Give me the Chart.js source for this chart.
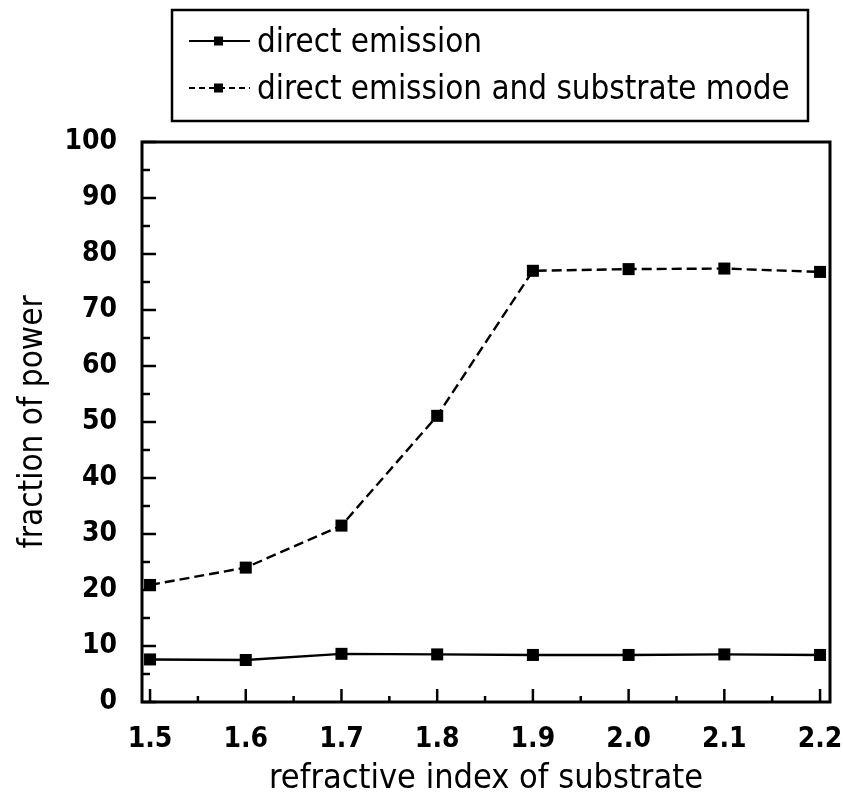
<!DOCTYPE html>
<html>
<head>
<meta charset="utf-8">
<script src="https://cdn.jsdelivr.net/npm/chart.js@4.4.1/dist/chart.umd.min.js"></script>
<style>
  html, body { margin: 0; padding: 0; background: #fff; }
  #c { display: block; }
</style>
</head>
<body>
<canvas id="c" width="843" height="804"></canvas>
<script>
// ---- data ----
const refractiveIndex = [1.5, 1.6, 1.7, 1.8, 1.9, 2.0, 2.1, 2.2];
const directEmission = [7.6, 7.5, 8.6, 8.5, 8.4, 8.4, 8.5, 8.4];
const directAndSubstrate = [20.9, 24.0, 31.5, 51.1, 77.0, 77.3, 77.4, 76.8];
const seriesLabels = ['direct emission', 'direct emission and substrate mode'];
const xTitle = 'refractive index of substrate';
const yTitle = 'fraction of power';

const NARROW = "'Liberation Sans Narrow', 'DejaVu Sans Condensed', 'Arial Narrow', sans-serif";

function pts(ys) { return refractiveIndex.map((x, i) => ({ x: x, y: ys[i] })); }

const framePlugin = {
  id: 'frame',
  beforeDraw(chart) {
    const ctx = chart.ctx;
    ctx.save();
    ctx.fillStyle = '#fff';
    ctx.fillRect(0, 0, chart.width, chart.height);
    ctx.restore();
  },
  afterDraw(chart) {
    const ctx = chart.ctx;
    const a = chart.chartArea;
    const xs = chart.scales.x, ys = chart.scales.y;
    ctx.save();
    ctx.strokeStyle = '#000';
    // frame
    ctx.lineWidth = 3;
    ctx.strokeRect(a.left, a.top, a.right - a.left, a.bottom - a.top);
    // inward ticks on y (left axis)
    ctx.lineWidth = 2.5;
    for (let v = 0; v <= 100; v += 5) {
      const p = ys.getPixelForValue(v);
      const len = (v % 10 === 0) ? 14 : 8;
      ctx.beginPath();
      ctx.moveTo(a.left, p);
      ctx.lineTo(a.left + len, p);
      ctx.stroke();
    }
    // inward ticks on x (bottom axis)
    for (let i = 0; i < refractiveIndex.length; i++) {
      const p = xs.getPixelForValue(refractiveIndex[i]);
      ctx.beginPath();
      ctx.moveTo(p, a.bottom);
      ctx.lineTo(p, a.bottom - 13);
      ctx.stroke();
      if (i < refractiveIndex.length - 1) {
        const m = xs.getPixelForValue((refractiveIndex[i] + refractiveIndex[i + 1]) / 2);
        ctx.beginPath();
        ctx.moveTo(m, a.bottom);
        ctx.lineTo(m, a.bottom - 6);
        ctx.stroke();
      }
    }
    // legend box
    const bx = 172, by = 10, bw = 636, bh = 111;
    ctx.lineWidth = 2.5;
    ctx.strokeRect(bx, by, bw, bh);
    const rows = [41, 88];
    // fit legend font so the longer label spans like the reference
    let fs = 37;
    ctx.font = fs + 'px ' + NARROW;
    const longest = Math.max(...chart.data.datasets.map(d => ctx.measureText(d.label).width));
    fs = Math.min(37, fs * 533 / longest);
    chart.data.datasets.forEach((ds, i) => {
      const y = rows[i];
      ctx.lineWidth = 2.2;
      ctx.setLineDash(ds.borderDash ? [6, 4] : []);
      ctx.beginPath();
      ctx.moveTo(189, y);
      ctx.lineTo(250, y);
      ctx.stroke();
      ctx.setLineDash([]);
      ctx.fillStyle = '#000';
      ctx.fillRect(214, y - 4.5, 9, 9);
      ctx.font = fs + 'px ' + NARROW;
      ctx.textBaseline = 'alphabetic';
      ctx.textAlign = 'left';
      ctx.fillText(ds.label, 257, y + 11);
    });
    ctx.restore();
  }
};

new Chart(document.getElementById('c'), {
  type: 'line',
  data: {
    datasets: [
      {
        label: seriesLabels[0],
        data: pts(directEmission),
        borderColor: '#000',
        backgroundColor: '#000',
        borderWidth: 2.4,
        pointStyle: 'rect',
        pointRadius: 8.5,
        pointBackgroundColor: '#000',
        pointBorderWidth: 0,
        tension: 0
      },
      {
        label: seriesLabels[1],
        data: pts(directAndSubstrate),
        borderColor: '#000',
        backgroundColor: '#000',
        borderWidth: 2.4,
        borderDash: [10, 5],
        pointStyle: 'rect',
        pointRadius: 8.5,
        pointBackgroundColor: '#000',
        pointBorderWidth: 0,
        tension: 0
      }
    ]
  },
  options: {
    responsive: false,
    animation: false,
    layout: { padding: { top: 142, right: 13, left: 0, bottom: 0 } },
    plugins: { legend: { display: false }, tooltip: { enabled: false } },
    scales: {
      x: {
        type: 'linear',
        min: 1.4916,
        max: 2.2104,
        afterFit(s) { s.height = 102; s.paddingLeft = 0; s.paddingRight = 0; },
        afterBuildTicks(s) { s.ticks = refractiveIndex.map(v => ({ value: v })); },
        grid: { display: false, drawTicks: false },
        border: { display: false },
        ticks: {
          color: '#000',
          padding: 21,
          maxRotation: 0,
          autoSkip: false,
          font: { family: NARROW, size: 28, weight: 'bold' },
          callback: v => Number(v).toFixed(1)
        },
        title: {
          display: true,
          text: xTitle,
          color: '#000',
          font: { family: NARROW, size: 34 },
          padding: { top: 0, bottom: 4 }
        }
      },
      y: {
        min: 0,
        max: 100,
        afterFit(s) { s.width = 142; s.paddingTop = 0; s.paddingBottom = 0; },
        grid: { display: false, drawTicks: false },
        border: { display: false },
        ticks: {
          stepSize: 10,
          color: '#000',
          padding: 25,
          font: { family: NARROW, size: 28, weight: 'bold' }
        },
        title: {
          display: true,
          text: yTitle,
          color: '#000',
          font: { family: NARROW, size: 33 },
          padding: { top: 14, bottom: 0 }
        }
      }
    }
  },
  plugins: [framePlugin]
});
</script>
</body>
</html>
